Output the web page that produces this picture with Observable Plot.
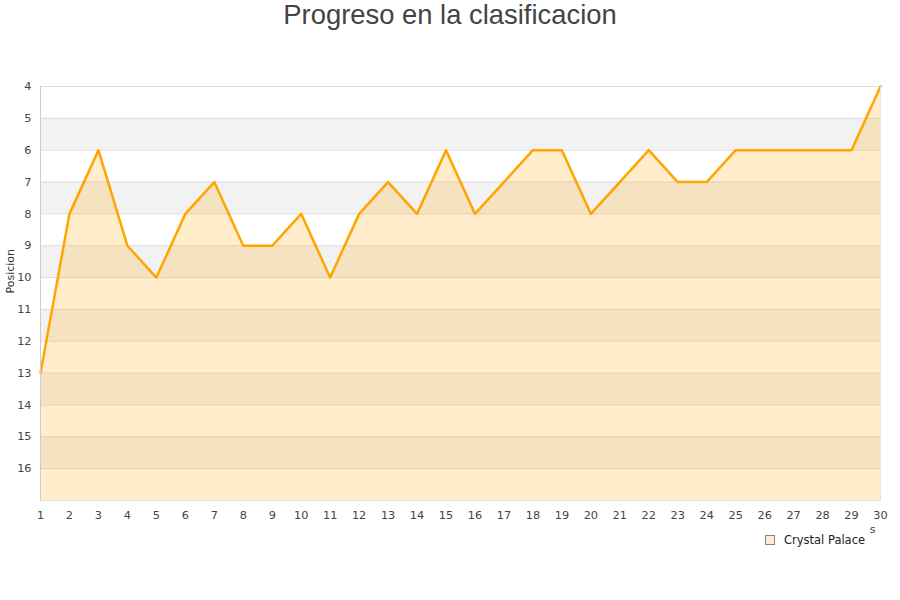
<!DOCTYPE html>
<html><head><meta charset="utf-8">
<script src="https://cdn.jsdelivr.net/npm/d3@7"></script>
<script src="https://cdn.jsdelivr.net/npm/@observablehq/plot@0.6"></script>
<style>
body{margin:0;background:#fff;font-family:"DejaVu Sans",sans-serif;}
#wrap{position:relative;width:900px;height:600px;}
#title{position:absolute;top:-1px;left:0;width:900px;text-align:center;font-family:"Liberation Sans",Arial,sans-serif;font-size:27.4px;color:#444;line-height:32px;}
#legend{position:absolute;left:765px;top:533px;font-size:11.5px;color:#222;display:flex;align-items:center;}
#legend span.sw{display:inline-block;width:8px;height:8px;background:#ffedcc;border:1px solid #888;margin-right:9px;}
#chart{position:absolute;top:0;left:0;}
</style></head>
<body><div id="wrap"><div id="title">Progreso en la clasificacion</div><div id="chart"></div>
<div id="legend"><span class="sw"></span>Crystal Palace</div></div>
<script>
const rounds = d3.range(1, 31);
const positions = [13,8,6,9,10,8,7,9,9,8,10,8,7,8,6,8,7,6,6,8,7,6,7,7,6,6,6,6,6,4];
const yTicks = [4,5,6,7,8,9,10,11,12,13,14,15,16];
const grayBandStarts = [5,7,9,11,13,15];
const data = rounds.map((r,i)=>({round:r, pos:positions[i]}));
const bands = grayBandStarts.map(s=>({y1:s,y2:s+1}));

const chart = Plot.plot({
  width: 900, height: 600,
  marginTop: 86, marginBottom: 100, marginLeft: 40, marginRight: 20,
  style: {fontFamily: "DejaVu Sans, sans-serif", fontSize: "11.3px", color: "#444", background: "transparent"},
  x: {domain: [1, 30], ticks: rounds, tickSize: 0, tickPadding: 10, label: null, tickFormat: d=>String(d)},
  y: {domain: [17, 4], ticks: yTicks, tickSize: 0, tickPadding: 9, label: null, tickFormat: d=>String(d)},
  marks: [
    Plot.rectY(bands, {x1: 1, x2: 30, y1: "y1", y2: "y2", fill: "#f2f2f2"}),
    Plot.ruleY(yTicks, {stroke: "#dddddd", strokeWidth: 1}),
    Plot.areaY(data, {x: "round", y1: 17, y2: "pos", fill: "#ffa500", fillOpacity: 0.2}),
    Plot.line(data, {x: "round", y: "pos", stroke: "#ffa500", strokeWidth: 2.5}),
    Plot.frame({stroke: "#cccccc", anchor: "left"}),
    Plot.frame({stroke: "#dddddd", anchor: "bottom"}),
    Plot.frame({stroke: "#e6e6e6", anchor: "right"}),
    Plot.axisY({ticks: yTicks, tickSize: 0, tickPadding: 9, label: null}),
    Plot.axisX({ticks: rounds, tickSize: 0, tickPadding: 10, label: null}),
    Plot.text(["Posicion"], {frameAnchor: "left", dx: -30, rotate: -90, fill: "#333", fontSize: 11}),
    Plot.text(["s"], {frameAnchor: "bottom-right", dx: -5, dy: 32, fill: "#444", fontSize: 11})
  ]
});
document.getElementById("chart").appendChild(chart);
</script></body></html>
